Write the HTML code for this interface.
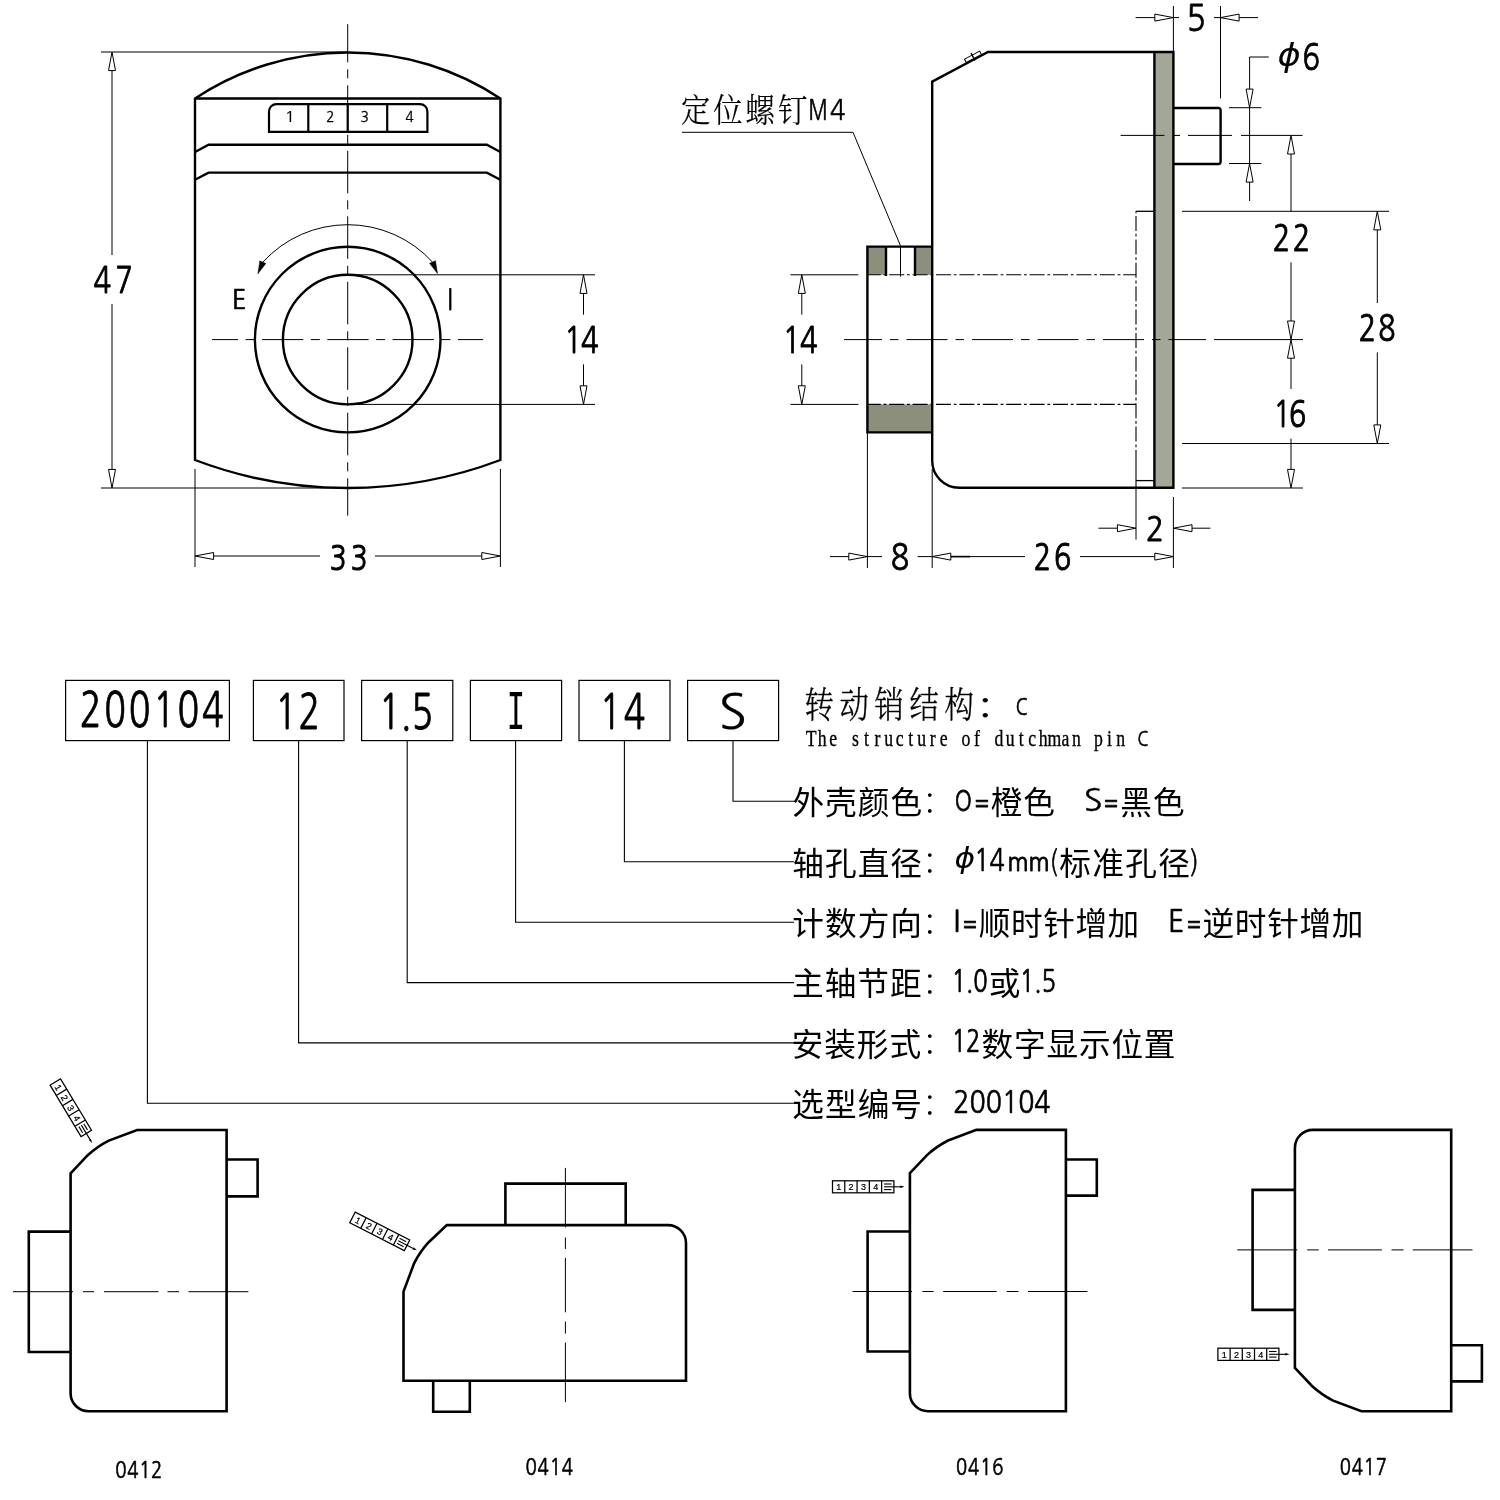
<!DOCTYPE html>
<html lang="zh">
<head>
<meta charset="utf-8">
<title>200104</title>
<style>
html,body{margin:0;padding:0;background:#fff;}
body{width:1500px;height:1500px;overflow:hidden;}
svg{display:block;will-change:transform;}
text{font-kerning:none;}
</style>
</head>
<body>
<svg width="1500" height="1500" viewBox="0 0 1500 1500">
<rect width="1500" height="1500" fill="#fff"/>
<path d="M195.0 98.5 A276.4 276.4 0 0 1 500.4 98.5 V460 A430.4 430.4 0 0 1 195.0 460 Z" stroke="#000" stroke-width="2.4" fill="none" stroke-linejoin="miter"/>
<line x1="195.00" y1="98.50" x2="500.40" y2="98.50" stroke="#000" stroke-width="2.4"/>
<path d="M195.0 152.0 L208.6 144.8 H486.8 L500.4 152.0" stroke="#000" stroke-width="2.4" fill="none" stroke-linejoin="miter"/>
<path d="M195.0 179.79999999999998 L208.6 172.6 H486.8 L500.4 179.79999999999998" stroke="#000" stroke-width="2.4" fill="none" stroke-linejoin="miter"/>
<path d="M269.0 131.8 V111.5 A7.4 7.4 0 0 1 276.4 104.1 H420 A7.4 7.4 0 0 1 427.4 111.5 V131.8 Z" stroke="#000" stroke-width="2.2" fill="none" stroke-linejoin="miter"/>
<line x1="308.30" y1="104.10" x2="308.30" y2="131.80" stroke="#000" stroke-width="2.2"/>
<line x1="347.70" y1="104.10" x2="347.70" y2="131.80" stroke="#000" stroke-width="2.2"/>
<line x1="387.20" y1="104.10" x2="387.20" y2="131.80" stroke="#000" stroke-width="2.2"/>
<text transform="translate(284.56 121.68) scale(1.1971 1)" font-family='"NanumGothic", "Liberation Sans", sans-serif' font-size="14.81" fill="#000" stroke="#000" stroke-width="0.17" stroke-linejoin="round" vector-effect="non-scaling-stroke" xml:space="preserve">1</text>
<text transform="translate(326.33 121.60) scale(0.9509 1)" font-family='"NanumGothic", "Liberation Sans", sans-serif' font-size="14.17" fill="#000" stroke="#000" stroke-width="0.34" stroke-linejoin="round" vector-effect="non-scaling-stroke" xml:space="preserve">2</text>
<text transform="translate(360.46 121.50) scale(0.9872 1)" font-family='"NanumGothic", "Liberation Sans", sans-serif' font-size="14.05" fill="#000" stroke="#000" stroke-width="0.33" stroke-linejoin="round" vector-effect="non-scaling-stroke" xml:space="preserve">3</text>
<text transform="translate(405.49 121.60) scale(0.9444 1)" font-family='"NanumGothic", "Liberation Sans", sans-serif' font-size="14.32" fill="#000" stroke="#000" stroke-width="0.33" stroke-linejoin="round" vector-effect="non-scaling-stroke" xml:space="preserve">4</text>
<circle cx="347.70" cy="339.60" r="92.80" fill="none" stroke="#000" stroke-width="2.4"/>
<circle cx="347.70" cy="339.60" r="64.80" fill="none" stroke="#000" stroke-width="2.4"/>
<path d="M347.70 24.2V62.3M347.70 69.3V78.3M347.70 85.3V127.8M347.70 134.8V143.8M347.70 150.8V193.3M347.70 200.3V209.3M347.70 216.3V258.8M347.70 265.8V274.8M347.70 281.8V324.3M347.70 331.3V340.3M347.70 347.3V389.8M347.70 396.8V405.8M347.70 412.8V455.3M347.70 462.3V471.3M347.70 478.3V515.6" stroke="#000" stroke-width="1.0" fill="none"/>
<path d="M212.0 339.60H238.0M245.5 339.60H254.5M262.0 339.60H303.3M310.8 339.60H319.8M327.3 339.60H368.6M376.1 339.60H385.1M392.6 339.60H433.9M441.4 339.60H450.4M457.9 339.60H483.2" stroke="#000" stroke-width="1.0" fill="none"/>
<path d="M262.85 262.12 A114.9 114.9 0 0 1 432.55 262.12" stroke="#000" stroke-width="1.0" fill="none" stroke-linejoin="miter"/>
<path d="M257.80 273.90L259.81 260.84L265.88 263.44Z" fill="#000" stroke="#000" stroke-width="0.4" stroke-linejoin="miter"/>
<path d="M437.60 273.70L429.46 263.29L435.51 260.65Z" fill="#000" stroke="#000" stroke-width="0.4" stroke-linejoin="miter"/>
<text transform="translate(232.03 308.65) scale(0.9712 1)" font-family='"NanumGothic", "Liberation Sans", sans-serif' font-size="25.99" fill="#000" stroke="#000" stroke-width="0.70" stroke-linejoin="round" vector-effect="non-scaling-stroke" xml:space="preserve">E</text>
<text transform="translate(447.45 309.40) scale(0.7446 1)" font-family='"NanumGothic", "Liberation Sans", sans-serif' font-size="28.73" fill="#000" stroke="#000" stroke-width="0.75" stroke-linejoin="round" vector-effect="non-scaling-stroke" xml:space="preserve">I</text>
<line x1="101.00" y1="52.00" x2="347.70" y2="52.00" stroke="#000" stroke-width="1.0"/>
<line x1="101.00" y1="488.00" x2="347.70" y2="488.00" stroke="#000" stroke-width="1.0"/>
<path d="M112.00 52.00L115.50 70.60L108.50 70.60Z" fill="#fff" stroke="#000" stroke-width="1.0" stroke-linejoin="miter"/>
<path d="M112.00 488.00L108.50 469.40L115.50 469.40Z" fill="#fff" stroke="#000" stroke-width="1.0" stroke-linejoin="miter"/>
<line x1="112.00" y1="70.60" x2="112.00" y2="255.00" stroke="#000" stroke-width="1.0"/>
<line x1="112.00" y1="304.00" x2="112.00" y2="469.40" stroke="#000" stroke-width="1.0"/>
<text transform="translate(93.40 293.49) scale(0.8000 1)" font-family='"NanumGothic", "Liberation Sans", sans-serif' font-size="36.46" fill="#000" letter-spacing="5.19" stroke="#000" stroke-width="0.84" stroke-linejoin="round" vector-effect="non-scaling-stroke" xml:space="preserve">47</text>
<line x1="195.00" y1="469.00" x2="195.00" y2="567.00" stroke="#000" stroke-width="1.0"/>
<line x1="500.40" y1="469.00" x2="500.40" y2="567.00" stroke="#000" stroke-width="1.0"/>
<path d="M195.00 556.00L213.60 552.50L213.60 559.50Z" fill="#fff" stroke="#000" stroke-width="1.0" stroke-linejoin="miter"/>
<path d="M500.40 556.00L481.80 559.50L481.80 552.50Z" fill="#fff" stroke="#000" stroke-width="1.0" stroke-linejoin="miter"/>
<line x1="213.60" y1="556.00" x2="320.00" y2="556.00" stroke="#000" stroke-width="1.0"/>
<line x1="375.00" y1="556.00" x2="481.80" y2="556.00" stroke="#000" stroke-width="1.0"/>
<text transform="translate(329.66 569.58) scale(0.8000 1)" font-family='"NanumGothic", "Liberation Sans", sans-serif' font-size="34.82" fill="#000" letter-spacing="5.26" stroke="#000" stroke-width="0.94" stroke-linejoin="round" vector-effect="non-scaling-stroke" xml:space="preserve">33</text>
<line x1="347.70" y1="274.80" x2="595.00" y2="274.80" stroke="#000" stroke-width="1.0"/>
<line x1="347.70" y1="404.40" x2="595.00" y2="404.40" stroke="#000" stroke-width="1.0"/>
<path d="M583.50 274.80L587.00 293.40L580.00 293.40Z" fill="#fff" stroke="#000" stroke-width="1.0" stroke-linejoin="miter"/>
<path d="M583.50 404.40L580.00 385.80L587.00 385.80Z" fill="#fff" stroke="#000" stroke-width="1.0" stroke-linejoin="miter"/>
<line x1="583.50" y1="293.40" x2="583.50" y2="314.60" stroke="#000" stroke-width="1.0"/>
<line x1="583.50" y1="364.40" x2="583.50" y2="385.80" stroke="#000" stroke-width="1.0"/>
<text transform="translate(564.26 353.49) scale(0.8000 1)" font-family='"NanumGothic", "Liberation Sans", sans-serif' font-size="36.46" fill="#000" letter-spacing="-1.28" stroke="#000" stroke-width="0.84" stroke-linejoin="round" vector-effect="non-scaling-stroke" xml:space="preserve">14</text>
<rect x="867.40" y="246.60" width="18.60" height="28.20" fill="#8b8f7c" stroke="none"/>
<rect x="915.00" y="246.60" width="17.20" height="28.20" fill="#8b8f7c" stroke="none"/>
<rect x="867.40" y="404.40" width="64.80" height="28.00" fill="#8b8f7c" stroke="none"/>
<rect x="1154.40" y="52.00" width="19.00" height="435.80" fill="#a3a797" stroke="none"/>
<path d="M867.4 274.80H880.8M883.6 274.80H886.4M889.2 274.80H904.2M907.0 274.80H909.8M912.6 274.80H927.6M930.4 274.80H933.2M936.0 274.80H951.0M953.8 274.80H956.6M959.4 274.80H974.4M977.2 274.80H980.0M982.8 274.80H997.8M1000.6 274.80H1003.4M1006.2 274.80H1021.2M1024.0 274.80H1026.8M1029.6 274.80H1044.6M1047.4 274.80H1050.2M1053.0 274.80H1068.0M1070.8 274.80H1073.6M1076.4 274.80H1091.4M1094.2 274.80H1097.0M1099.8 274.80H1114.8M1117.6 274.80H1120.4M1123.2 274.80H1136.0" stroke="#000" stroke-width="1.1" fill="none"/>
<path d="M867.4 404.40H880.8M883.6 404.40H886.4M889.2 404.40H904.2M907.0 404.40H909.8M912.6 404.40H927.6M930.4 404.40H933.2M936.0 404.40H951.0M953.8 404.40H956.6M959.4 404.40H974.4M977.2 404.40H980.0M982.8 404.40H997.8M1000.6 404.40H1003.4M1006.2 404.40H1021.2M1024.0 404.40H1026.8M1029.6 404.40H1044.6M1047.4 404.40H1050.2M1053.0 404.40H1068.0M1070.8 404.40H1073.6M1076.4 404.40H1091.4M1094.2 404.40H1097.0M1099.8 404.40H1114.8M1117.6 404.40H1120.4M1123.2 404.40H1136.0" stroke="#000" stroke-width="1.1" fill="none"/>
<path d="M1136.00 211.3V213.2M1136.00 216.0V231.0M1136.00 233.8V236.6M1136.00 239.4V254.4M1136.00 257.2V260.0M1136.00 262.8V277.8M1136.00 280.6V283.4M1136.00 286.2V301.2M1136.00 304.0V306.8M1136.00 309.6V324.6M1136.00 327.4V330.2M1136.00 333.0V348.0M1136.00 350.8V353.6M1136.00 356.4V371.4M1136.00 374.2V377.0M1136.00 379.8V394.8M1136.00 397.6V400.4M1136.00 403.2V418.2M1136.00 421.0V423.8M1136.00 426.6V441.6M1136.00 444.4V447.2M1136.00 450.0V452.0" stroke="#000" stroke-width="1.1" fill="none"/>
<line x1="1136.00" y1="452.00" x2="1136.00" y2="487.80" stroke="#000" stroke-width="1.1"/>
<line x1="1136.00" y1="211.30" x2="1154.40" y2="211.30" stroke="#000" stroke-width="1.3"/>
<line x1="1136.00" y1="480.60" x2="1154.40" y2="480.60" stroke="#000" stroke-width="1.3"/>
<path d="M932.2 246.6 H867.4 V432.4 H932.2" stroke="#000" stroke-width="2.4" fill="none" stroke-linejoin="miter"/>
<line x1="886.00" y1="246.60" x2="886.00" y2="276.00" stroke="#000" stroke-width="2.4"/>
<line x1="915.00" y1="246.60" x2="915.00" y2="276.00" stroke="#000" stroke-width="2.4"/>
<line x1="900.50" y1="246.00" x2="900.50" y2="276.50" stroke="#000" stroke-width="1.0"/>
<path d="M932.2 81.6 L988 52.0 H1173.4 V487.8 H959.2 A27 27 0 0 1 932.2 460.8 Z" stroke="#000" stroke-width="2.4" fill="none" stroke-linejoin="miter"/>
<line x1="1154.40" y1="52.00" x2="1154.40" y2="487.80" stroke="#000" stroke-width="2.4"/>
<path d="M1173.4 108 H1218.4 A2.2 2.2 0 0 1 1220.6 110.2 V161.8 A2.2 2.2 0 0 1 1218.4 164 H1173.4" stroke="#000" stroke-width="2.4" fill="none" stroke-linejoin="miter"/>
<g transform="translate(973 56.8) rotate(-27.8)"><rect x="-8.6" y="-1.9" width="17.2" height="3.8" fill="#fff" stroke="#000" stroke-width="1"/><line x1="0" y1="-4.2" x2="0" y2="4.2" stroke="#000" stroke-width="1.4"/></g>
<path d="M844.0 339.60H882.0M890.0 339.60H898.5M906.5 339.60H947.5M955.5 339.60H964.0M972.0 339.60H1013.0M1021.0 339.60H1029.5M1037.5 339.60H1078.5M1086.5 339.60H1095.0M1103.0 339.60H1144.0M1152.0 339.60H1160.5M1168.5 339.60H1206.0" stroke="#000" stroke-width="1.0" fill="none"/>
<line x1="1214.00" y1="339.60" x2="1303.00" y2="339.60" stroke="#000" stroke-width="1.0"/>
<path d="M1120.6 135.40H1164.4M1173.0 135.40H1180.0M1188.0 135.40H1232.0M1241.0 135.40H1302.6" stroke="#000" stroke-width="1.0" fill="none"/>
<path d="M682 132.3 H853 L900.6 246" stroke="#000" stroke-width="1.0" fill="none" stroke-linejoin="miter"/>
<line x1="790.40" y1="274.80" x2="858.40" y2="274.80" stroke="#000" stroke-width="1.0"/>
<line x1="790.40" y1="404.40" x2="858.40" y2="404.40" stroke="#000" stroke-width="1.0"/>
<path d="M801.80 274.80L805.30 293.40L798.30 293.40Z" fill="#fff" stroke="#000" stroke-width="1.0" stroke-linejoin="miter"/>
<path d="M801.80 404.40L798.30 385.80L805.30 385.80Z" fill="#fff" stroke="#000" stroke-width="1.0" stroke-linejoin="miter"/>
<line x1="801.80" y1="293.40" x2="801.80" y2="314.60" stroke="#000" stroke-width="1.0"/>
<line x1="801.80" y1="364.40" x2="801.80" y2="385.80" stroke="#000" stroke-width="1.0"/>
<text transform="translate(782.86 353.49) scale(0.8000 1)" font-family='"NanumGothic", "Liberation Sans", sans-serif' font-size="36.46" fill="#000" letter-spacing="-0.78" stroke="#000" stroke-width="0.84" stroke-linejoin="round" vector-effect="non-scaling-stroke" xml:space="preserve">14</text>
<line x1="1173.40" y1="6.00" x2="1173.40" y2="52.00" stroke="#000" stroke-width="1.0"/>
<line x1="1220.50" y1="6.00" x2="1220.50" y2="98.40" stroke="#000" stroke-width="1.0"/>
<path d="M1173.40 17.60L1154.80 21.10L1154.80 14.10Z" fill="#fff" stroke="#000" stroke-width="1.0" stroke-linejoin="miter"/>
<path d="M1220.50 17.60L1239.10 14.10L1239.10 21.10Z" fill="#fff" stroke="#000" stroke-width="1.0" stroke-linejoin="miter"/>
<line x1="1135.60" y1="17.60" x2="1154.80" y2="17.60" stroke="#000" stroke-width="1.0"/>
<line x1="1239.10" y1="17.60" x2="1258.00" y2="17.60" stroke="#000" stroke-width="1.0"/>
<line x1="1173.40" y1="17.60" x2="1179.00" y2="17.60" stroke="#000" stroke-width="1.0"/>
<line x1="1214.00" y1="17.60" x2="1220.50" y2="17.60" stroke="#000" stroke-width="1.0"/>
<text transform="translate(1186.57 31.46) scale(0.8844 1)" font-family='"NanumGothic", "Liberation Sans", sans-serif' font-size="36.22" fill="#000" stroke="#000" stroke-width="0.75" stroke-linejoin="round" vector-effect="non-scaling-stroke" xml:space="preserve">5</text>
<path d="M1268.8 57 H1249.6 V89" stroke="#000" stroke-width="1.0" fill="none" stroke-linejoin="miter"/>
<path d="M1249.60 107.70L1246.10 89.10L1253.10 89.10Z" fill="#fff" stroke="#000" stroke-width="1.0" stroke-linejoin="miter"/>
<path d="M1249.60 163.50L1253.10 182.10L1246.10 182.10Z" fill="#fff" stroke="#000" stroke-width="1.0" stroke-linejoin="miter"/>
<line x1="1249.60" y1="107.70" x2="1249.60" y2="163.50" stroke="#000" stroke-width="1.0"/>
<line x1="1249.60" y1="182.10" x2="1249.60" y2="201.00" stroke="#000" stroke-width="1.0"/>
<line x1="1229.00" y1="107.70" x2="1261.40" y2="107.70" stroke="#000" stroke-width="1.0"/>
<line x1="1229.00" y1="163.50" x2="1261.40" y2="163.50" stroke="#000" stroke-width="1.0"/>
<text font-family='"Liberation Sans", "Noto Sans CJK SC", sans-serif' font-size="30" fill="#000" xml:space="preserve"><tspan x="1277.41" y="65.52" font-family='"DejaVu Sans", "Liberation Sans", sans-serif' font-size="31.21" textLength="23.35" lengthAdjust="spacingAndGlyphs" font-style="italic">ϕ</tspan><tspan x="1302.49" y="70.01" font-family='"NanumGothic", "Liberation Sans", sans-serif' font-size="35.69" textLength="17.49" lengthAdjust="spacingAndGlyphs" stroke="#000" stroke-width="0.87" stroke-linejoin="round">6</tspan></text>
<line x1="1182.00" y1="211.30" x2="1389.00" y2="211.30" stroke="#000" stroke-width="1.0"/>
<line x1="1182.00" y1="443.50" x2="1389.00" y2="443.50" stroke="#000" stroke-width="1.0"/>
<line x1="1182.00" y1="488.00" x2="1303.00" y2="488.00" stroke="#000" stroke-width="1.0"/>
<path d="M1291.00 135.40L1294.50 154.00L1287.50 154.00Z" fill="#fff" stroke="#000" stroke-width="1.0" stroke-linejoin="miter"/>
<line x1="1291.00" y1="154.00" x2="1291.00" y2="211.30" stroke="#000" stroke-width="1.0"/>
<line x1="1291.00" y1="262.40" x2="1291.00" y2="321.00" stroke="#000" stroke-width="1.0"/>
<path d="M1291.00 339.60L1287.50 321.00L1294.50 321.00Z" fill="#fff" stroke="#000" stroke-width="1.0" stroke-linejoin="miter"/>
<path d="M1291.00 339.60L1294.50 358.20L1287.50 358.20Z" fill="#fff" stroke="#000" stroke-width="1.0" stroke-linejoin="miter"/>
<line x1="1291.00" y1="358.20" x2="1291.00" y2="389.00" stroke="#000" stroke-width="1.0"/>
<line x1="1291.00" y1="438.60" x2="1291.00" y2="469.40" stroke="#000" stroke-width="1.0"/>
<path d="M1291.00 488.00L1287.50 469.40L1294.50 469.40Z" fill="#fff" stroke="#000" stroke-width="1.0" stroke-linejoin="miter"/>
<text transform="translate(1272.63 251.48) scale(0.8000 1)" font-family='"NanumGothic", "Liberation Sans", sans-serif' font-size="36.06" fill="#000" letter-spacing="3.38" stroke="#000" stroke-width="0.86" stroke-linejoin="round" vector-effect="non-scaling-stroke" xml:space="preserve">22</text>
<text transform="translate(1273.38 427.20) scale(0.8000 1)" font-family='"NanumGothic", "Liberation Sans", sans-serif' font-size="35.68" fill="#000" letter-spacing="-2.23" stroke="#000" stroke-width="0.89" stroke-linejoin="round" vector-effect="non-scaling-stroke" xml:space="preserve">16</text>
<path d="M1377.30 211.30L1380.80 229.90L1373.80 229.90Z" fill="#fff" stroke="#000" stroke-width="1.0" stroke-linejoin="miter"/>
<path d="M1377.30 443.50L1373.80 424.90L1380.80 424.90Z" fill="#fff" stroke="#000" stroke-width="1.0" stroke-linejoin="miter"/>
<line x1="1377.30" y1="229.90" x2="1377.30" y2="303.00" stroke="#000" stroke-width="1.0"/>
<line x1="1377.30" y1="352.40" x2="1377.30" y2="424.90" stroke="#000" stroke-width="1.0"/>
<text transform="translate(1358.66 341.20) scale(0.8000 1)" font-family='"NanumGothic", "Liberation Sans", sans-serif' font-size="35.68" fill="#000" letter-spacing="2.74" stroke="#000" stroke-width="0.89" stroke-linejoin="round" vector-effect="non-scaling-stroke" xml:space="preserve">28</text>
<line x1="867.40" y1="432.40" x2="867.40" y2="568.00" stroke="#000" stroke-width="1.0"/>
<line x1="932.20" y1="469.00" x2="932.20" y2="568.00" stroke="#000" stroke-width="1.0"/>
<line x1="1173.40" y1="497.00" x2="1173.40" y2="568.00" stroke="#000" stroke-width="1.0"/>
<line x1="830.00" y1="556.60" x2="848.80" y2="556.60" stroke="#000" stroke-width="1.0"/>
<path d="M867.40 556.60L848.80 560.10L848.80 553.10Z" fill="#fff" stroke="#000" stroke-width="1.0" stroke-linejoin="miter"/>
<line x1="867.40" y1="556.60" x2="882.00" y2="556.60" stroke="#000" stroke-width="1.0"/>
<line x1="917.60" y1="556.60" x2="932.20" y2="556.60" stroke="#000" stroke-width="1.0"/>
<path d="M932.20 556.60L950.80 553.10L950.80 560.10Z" fill="#fff" stroke="#000" stroke-width="1.0" stroke-linejoin="miter"/>
<line x1="950.80" y1="556.60" x2="1025.00" y2="556.60" stroke="#000" stroke-width="1.0"/>
<line x1="951.00" y1="556.60" x2="970.00" y2="556.60" stroke="#000" stroke-width="1.6"/>
<line x1="1080.00" y1="556.60" x2="1154.80" y2="556.60" stroke="#000" stroke-width="1.0"/>
<path d="M1173.40 556.60L1154.80 560.10L1154.80 553.10Z" fill="#fff" stroke="#000" stroke-width="1.0" stroke-linejoin="miter"/>
<text transform="translate(890.65 570.24) scale(0.8533 1)" font-family='"NanumGothic", "Liberation Sans", sans-serif' font-size="35.77" fill="#000" stroke="#000" stroke-width="0.81" stroke-linejoin="round" vector-effect="non-scaling-stroke" xml:space="preserve">8</text>
<text transform="translate(1033.66 570.20) scale(0.8000 1)" font-family='"NanumGothic", "Liberation Sans", sans-serif' font-size="35.68" fill="#000" letter-spacing="3.67" stroke="#000" stroke-width="0.89" stroke-linejoin="round" vector-effect="non-scaling-stroke" xml:space="preserve">26</text>
<line x1="1136.00" y1="487.80" x2="1136.00" y2="539.60" stroke="#000" stroke-width="1.0"/>
<line x1="1098.40" y1="528.20" x2="1117.40" y2="528.20" stroke="#000" stroke-width="1.0"/>
<path d="M1136.00 528.20L1117.40 531.70L1117.40 524.70Z" fill="#fff" stroke="#000" stroke-width="1.0" stroke-linejoin="miter"/>
<path d="M1173.40 528.20L1192.00 524.70L1192.00 531.70Z" fill="#fff" stroke="#000" stroke-width="1.0" stroke-linejoin="miter"/>
<line x1="1192.00" y1="528.20" x2="1210.40" y2="528.20" stroke="#000" stroke-width="1.0"/>
<text transform="translate(1146.00 541.07) scale(0.8655 1)" font-family='"NanumGothic", "Liberation Sans", sans-serif' font-size="34.16" fill="#000" stroke="#000" stroke-width="0.90" stroke-linejoin="round" vector-effect="non-scaling-stroke" xml:space="preserve">2</text>
<text font-family='"Liberation Sans", "Noto Sans CJK SC", sans-serif' font-size="30" fill="#000" xml:space="preserve"><tspan x="681.03" y="121.76" font-family='"Liberation Serif", "Noto Serif CJK SC", serif' font-size="32.51" letter-spacing="3.38" textLength="129.20" lengthAdjust="spacingAndGlyphs" font-weight="300" stroke="#000" stroke-width="0.25" stroke-linejoin="round">定位螺钉</tspan><tspan x="808.62" y="120.45" font-family='"NanumGothic", "Liberation Sans", sans-serif' font-size="29.23" textLength="19.13" lengthAdjust="spacingAndGlyphs" stroke="#000" stroke-width="0.70" stroke-linejoin="round">M</tspan><tspan x="829.95" y="120.48" font-family='"NanumGothic", "Liberation Sans", sans-serif' font-size="29.41" textLength="15.46" lengthAdjust="spacingAndGlyphs" stroke="#000" stroke-width="0.49" stroke-linejoin="round">4</tspan></text>
<rect x="65.60" y="680.40" width="163.80" height="60.20" fill="none" stroke="#000" stroke-width="1.2"/>
<rect x="253.40" y="680.40" width="90.60" height="60.20" fill="none" stroke="#000" stroke-width="1.2"/>
<rect x="361.60" y="680.40" width="91.20" height="60.20" fill="none" stroke="#000" stroke-width="1.2"/>
<rect x="470.40" y="680.40" width="91.20" height="60.20" fill="none" stroke="#000" stroke-width="1.2"/>
<rect x="579.00" y="680.40" width="91.00" height="60.20" fill="none" stroke="#000" stroke-width="1.2"/>
<rect x="687.60" y="680.40" width="91.00" height="60.20" fill="none" stroke="#000" stroke-width="1.2"/>
<text transform="translate(79.73 726.51) scale(0.7400 1)" font-family='"NanumGothic", "Liberation Sans", sans-serif' font-size="48.41" fill="#000" letter-spacing="3.74" stroke="#000" stroke-width="0.73" stroke-linejoin="round" vector-effect="non-scaling-stroke" xml:space="preserve">200104</text>
<text transform="translate(275.30 728.50) scale(0.7400 1)" font-family='"NanumGothic", "Liberation Sans", sans-serif' font-size="48.12" fill="#000" letter-spacing="2.07" stroke="#000" stroke-width="0.75" stroke-linejoin="round" vector-effect="non-scaling-stroke" xml:space="preserve">12</text>
<text transform="translate(378.90 728.50) scale(0.7400 1)" font-family='"NanumGothic", "Liberation Sans", sans-serif' font-size="48.12" fill="#000" letter-spacing="0.24" stroke="#000" stroke-width="0.75" stroke-linejoin="round" vector-effect="non-scaling-stroke" xml:space="preserve">1.5</text>
<text transform="translate(506.69 728.94) scale(0.5498 1)" font-family='"Liberation Mono", monospace' font-size="55.48" fill="#000" stroke="#000" stroke-width="0.12" stroke-linejoin="round" vector-effect="non-scaling-stroke" xml:space="preserve">I</text>
<text transform="translate(599.70 728.50) scale(0.7400 1)" font-family='"NanumGothic", "Liberation Sans", sans-serif' font-size="48.12" fill="#000" letter-spacing="3.24" stroke="#000" stroke-width="0.75" stroke-linejoin="round" vector-effect="non-scaling-stroke" xml:space="preserve">14</text>
<text transform="translate(718.42 728.60) scale(1.0817 1)" font-family='"NanumGothic", "Liberation Sans", sans-serif' font-size="48.37" fill="#000" stroke="#000" stroke-width="0.16" stroke-linejoin="round" vector-effect="non-scaling-stroke" xml:space="preserve">S</text>
<path d="M733.0 740.6 V801.3 H794" stroke="#000" stroke-width="1.1" fill="none" stroke-linejoin="miter"/>
<path d="M624.4 740.6 V861.8 H794" stroke="#000" stroke-width="1.1" fill="none" stroke-linejoin="miter"/>
<path d="M515.6 740.6 V922.3 H794" stroke="#000" stroke-width="1.1" fill="none" stroke-linejoin="miter"/>
<path d="M407.2 740.6 V982.6 H794" stroke="#000" stroke-width="1.1" fill="none" stroke-linejoin="miter"/>
<path d="M298.6 740.6 V1042.9 H794" stroke="#000" stroke-width="1.1" fill="none" stroke-linejoin="miter"/>
<path d="M147.4 740.6 V1103.3 H794" stroke="#000" stroke-width="1.1" fill="none" stroke-linejoin="miter"/>
<text font-family='"Liberation Sans", "Noto Sans CJK SC", sans-serif' font-size="30" fill="#000" xml:space="preserve"><tspan x="804.58" y="717.79" font-family='"Liberation Serif", "Noto Serif CJK SC", serif' font-size="36.69" letter-spacing="7.06" textLength="175.00" lengthAdjust="spacingAndGlyphs" font-weight="300" stroke="#000" stroke-width="0.35" stroke-linejoin="round">转动销结构</tspan><tspan x="975.26" y="718.90" font-family='"Liberation Serif", "Noto Serif CJK SC", serif' font-size="37.13" textLength="43.20" lengthAdjust="spacingAndGlyphs">：</tspan> <tspan x="1015.79" y="715.18" font-family='"NanumGothic", "Liberation Sans", sans-serif' font-size="23.38" textLength="11.84" lengthAdjust="spacingAndGlyphs" stroke="#000" stroke-width="0.65" stroke-linejoin="round">C</tspan></text>
<text transform="scale(0.8 1)" x="1014.0 1027.8 1041.6 1055.4 1069.2 1083.1 1096.9 1110.7 1124.5 1138.3 1152.1 1165.9 1179.7 1193.6 1207.4 1221.2 1235.0 1248.8 1262.6 1276.4 1290.2 1304.1 1317.9 1331.7 1345.5 1359.3 1373.1 1386.9 1400.8 1414.6" y="745.9" text-anchor="middle" font-family='"Liberation Serif", serif' font-size="22.14" fill="#000" stroke="#000" stroke-width="0.3" vector-effect="non-scaling-stroke" xml:space="preserve">The structure of dutchman pin <tspan x="1421.78" y="746.20" text-anchor="start" font-family='"NanumGothic", "Liberation Sans", sans-serif' font-size="20.07" stroke-width="0.6">C</tspan></text>
<text font-family='"Liberation Sans", "Noto Sans CJK SC", sans-serif' font-size="30" fill="#000" xml:space="preserve"><tspan x="792.43" y="814.17" font-family='"Liberation Sans", "Noto Sans CJK SC", sans-serif' font-size="31.65" letter-spacing="1.05">外壳颜色</tspan><tspan x="922.59" y="811.82" font-family='"Liberation Sans", "Noto Sans CJK SC", sans-serif' font-size="30.08" textLength="29.23" lengthAdjust="spacingAndGlyphs" font-weight="300">：</tspan><tspan x="954.75" y="810.65" font-family='"NanumGothic", "Liberation Sans", sans-serif' font-size="29.45" textLength="17.04" lengthAdjust="spacingAndGlyphs" stroke="#000" stroke-width="0.82" stroke-linejoin="round">O</tspan><tspan x="974.87" y="811.84" font-family='"NanumGothic", "Liberation Sans", sans-serif' font-size="24.74" textLength="14.23" lengthAdjust="spacingAndGlyphs" stroke="#000" stroke-width="0.75" stroke-linejoin="round">=</tspan><tspan x="990.63" y="814.17" font-family='"Liberation Sans", "Noto Sans CJK SC", sans-serif' font-size="31.65" letter-spacing="1.05">橙色</tspan>  <tspan x="1083.75" y="810.87" font-family='"NanumGothic", "Liberation Sans", sans-serif' font-size="30.07" textLength="18.86" lengthAdjust="spacingAndGlyphs" stroke="#000" stroke-width="0.35" stroke-linejoin="round">S</tspan><tspan x="1104.09" y="811.84" font-family='"NanumGothic", "Liberation Sans", sans-serif' font-size="24.74" textLength="13.99" lengthAdjust="spacingAndGlyphs" stroke="#000" stroke-width="0.75" stroke-linejoin="round">=</tspan><tspan x="1120.26" y="814.17" font-family='"Liberation Sans", "Noto Sans CJK SC", sans-serif' font-size="31.65" letter-spacing="1.05">黑色</tspan></text>
<text font-family='"Liberation Sans", "Noto Sans CJK SC", sans-serif' font-size="30" fill="#000" xml:space="preserve"><tspan x="792.28" y="874.67" font-family='"Liberation Sans", "Noto Sans CJK SC", sans-serif' font-size="31.65" letter-spacing="1.05">轴孔直径</tspan><tspan x="922.59" y="872.32" font-family='"Liberation Sans", "Noto Sans CJK SC", sans-serif' font-size="30.08" textLength="29.23" lengthAdjust="spacingAndGlyphs" font-weight="300">：</tspan><tspan x="954.40" y="868.25" font-family='"DejaVu Sans", "Liberation Sans", sans-serif' font-size="27.70" textLength="20.55" lengthAdjust="spacingAndGlyphs" font-style="italic">ϕ</tspan><tspan x="974.26" y="871.28" font-family='"NanumGothic", "Liberation Sans", sans-serif' font-size="29.81" textLength="30.46" lengthAdjust="spacingAndGlyphs" stroke="#000" stroke-width="0.69" stroke-linejoin="round">14</tspan><tspan x="1007.56" y="871.26" font-family='"NanumGothic", "Liberation Sans", sans-serif' font-size="25.60" textLength="42.04" lengthAdjust="spacingAndGlyphs" stroke="#000" stroke-width="0.89" stroke-linejoin="round">mm</tspan><tspan x="1050.24" y="871.52" font-family='"NanumGothic", "Liberation Sans", sans-serif' font-size="28.79" textLength="6.88" lengthAdjust="spacingAndGlyphs" stroke="#000" stroke-width="0.94" stroke-linejoin="round">(</tspan><tspan x="1059.21" y="874.67" font-family='"Liberation Sans", "Noto Sans CJK SC", sans-serif' font-size="31.65" letter-spacing="1.35">标准孔径</tspan><tspan x="1190.52" y="871.55" font-family='"NanumGothic", "Liberation Sans", sans-serif' font-size="28.88" textLength="7.75" lengthAdjust="spacingAndGlyphs" stroke="#000" stroke-width="0.85" stroke-linejoin="round">)</tspan></text>
<text font-family='"Liberation Sans", "Noto Sans CJK SC", sans-serif' font-size="30" fill="#000" xml:space="preserve"><tspan x="792.28" y="935.17" font-family='"Liberation Sans", "Noto Sans CJK SC", sans-serif' font-size="31.65" letter-spacing="1.05">计数方向</tspan><tspan x="922.59" y="932.82" font-family='"Liberation Sans", "Noto Sans CJK SC", sans-serif' font-size="30.08" textLength="29.23" lengthAdjust="spacingAndGlyphs" font-weight="300">：</tspan><tspan x="953.21" y="930.65" font-family='"NanumGothic", "Liberation Sans", sans-serif' font-size="30.25" textLength="7.14" lengthAdjust="spacingAndGlyphs" stroke="#000" stroke-width="0.52" stroke-linejoin="round">I</tspan><tspan x="963.10" y="932.84" font-family='"NanumGothic", "Liberation Sans", sans-serif' font-size="24.74" textLength="13.87" lengthAdjust="spacingAndGlyphs" stroke="#000" stroke-width="0.75" stroke-linejoin="round">=</tspan><tspan x="978.85" y="935.17" font-family='"Liberation Sans", "Noto Sans CJK SC", sans-serif' font-size="31.65" letter-spacing="0.55">顺时针增加</tspan>  <tspan x="1168.12" y="931.92" font-family='"NanumGothic", "Liberation Sans", sans-serif' font-size="30.09" textLength="16.48" lengthAdjust="spacingAndGlyphs" stroke="#000" stroke-width="0.56" stroke-linejoin="round">E</tspan><tspan x="1187.10" y="932.84" font-family='"NanumGothic", "Liberation Sans", sans-serif' font-size="24.74" textLength="13.87" lengthAdjust="spacingAndGlyphs" stroke="#000" stroke-width="0.75" stroke-linejoin="round">=</tspan><tspan x="1202.58" y="935.17" font-family='"Liberation Sans", "Noto Sans CJK SC", sans-serif' font-size="31.65" letter-spacing="0.65">逆时针增加</tspan></text>
<text font-family='"Liberation Sans", "Noto Sans CJK SC", sans-serif' font-size="30" fill="#000" xml:space="preserve"><tspan x="791.96" y="995.47" font-family='"Liberation Sans", "Noto Sans CJK SC", sans-serif' font-size="31.65" letter-spacing="1.05">主轴节距</tspan><tspan x="922.59" y="993.12" font-family='"Liberation Sans", "Noto Sans CJK SC", sans-serif' font-size="30.08" textLength="29.23" lengthAdjust="spacingAndGlyphs" font-weight="300">：</tspan><tspan x="951.69" y="992.06" font-family='"NanumGothic", "Liberation Sans", sans-serif' font-size="29.74" textLength="35.95" lengthAdjust="spacingAndGlyphs" stroke="#000" stroke-width="0.74" stroke-linejoin="round">1.0</tspan><tspan x="988.72" y="995.47" font-family='"Liberation Sans", "Noto Sans CJK SC", sans-serif' font-size="31.65" letter-spacing="1.05">或</tspan><tspan x="1019.64" y="992.06" font-family='"NanumGothic", "Liberation Sans", sans-serif' font-size="29.76" textLength="36.44" lengthAdjust="spacingAndGlyphs" stroke="#000" stroke-width="0.73" stroke-linejoin="round">1.5</tspan></text>
<text font-family='"Liberation Sans", "Noto Sans CJK SC", sans-serif' font-size="30" fill="#000" xml:space="preserve"><tspan x="791.48" y="1055.77" font-family='"Liberation Sans", "Noto Sans CJK SC", sans-serif' font-size="31.65" letter-spacing="1.05">安装形式</tspan><tspan x="922.59" y="1053.42" font-family='"Liberation Sans", "Noto Sans CJK SC", sans-serif' font-size="30.08" textLength="29.23" lengthAdjust="spacingAndGlyphs" font-weight="300">：</tspan><tspan x="951.67" y="1052.36" font-family='"NanumGothic", "Liberation Sans", sans-serif' font-size="29.75" textLength="28.92" lengthAdjust="spacingAndGlyphs" stroke="#000" stroke-width="0.74" stroke-linejoin="round">12</tspan><tspan x="981.43" y="1055.77" font-family='"Liberation Sans", "Noto Sans CJK SC", sans-serif' font-size="31.65" letter-spacing="0.85">数字显示位置</tspan></text>
<text font-family='"Liberation Sans", "Noto Sans CJK SC", sans-serif' font-size="30" fill="#000" xml:space="preserve"><tspan x="792.28" y="1116.17" font-family='"Liberation Sans", "Noto Sans CJK SC", sans-serif' font-size="31.65" letter-spacing="1.05">选型编号</tspan><tspan x="922.59" y="1113.82" font-family='"Liberation Sans", "Noto Sans CJK SC", sans-serif' font-size="30.08" textLength="29.23" lengthAdjust="spacingAndGlyphs" font-weight="300">：</tspan><tspan x="953.34" y="1112.81" font-family='"NanumGothic", "Liberation Sans", sans-serif' font-size="29.89" textLength="97.24" lengthAdjust="spacingAndGlyphs" stroke="#000" stroke-width="0.63" stroke-linejoin="round">200104</tspan></text>
<path d="M70.6 1173.3 L87.7 1155.2 A95 95 0 0 1 108.8 1140.6 L137.1 1130.0 H226.6 V1411.3 H88.6 A18 18 0 0 1 70.6 1393.3 Z" stroke="#000" stroke-width="2.6" fill="none" stroke-linejoin="miter"/>
<path d="M70.6 1231.6 H28.8 V1352 H70.6" stroke="#000" stroke-width="2.6" fill="none" stroke-linejoin="miter"/>
<path d="M226.6 1159.5 H257.6 V1196.4 H226.6" stroke="#000" stroke-width="2.6" fill="none" stroke-linejoin="miter"/>
<path d="M13.0 1291.70H73.0M83.0 1291.70H94.0M104.0 1291.70H158.5M167.5 1291.70H179.0M188.5 1291.70H248.4" stroke="#000" stroke-width="1.0" fill="none"/>
<g transform="translate(55.3 1082.0) rotate(58.9)"><rect x="0" y="-6.1" width="60.0" height="12.2" fill="#fff" stroke="#000" stroke-width="1.25"/><line x1="12.00" y1="-6.1" x2="12.00" y2="6.1" stroke="#000" stroke-width="1.25"/><line x1="24.00" y1="-6.1" x2="24.00" y2="6.1" stroke="#000" stroke-width="1.25"/><line x1="36.00" y1="-6.1" x2="36.00" y2="6.1" stroke="#000" stroke-width="1.25"/><line x1="48.00" y1="-6.1" x2="48.00" y2="6.1" stroke="#000" stroke-width="1.25"/><text x="6.20" y="3.4" text-anchor="middle" font-family='"Liberation Sans", sans-serif' font-size="9.0" fill="#000" stroke="#000" stroke-width="0.2">1</text><text x="18.20" y="3.4" text-anchor="middle" font-family='"Liberation Sans", sans-serif' font-size="9.0" fill="#000" stroke="#000" stroke-width="0.2">2</text><text x="30.20" y="3.4" text-anchor="middle" font-family='"Liberation Sans", sans-serif' font-size="9.0" fill="#000" stroke="#000" stroke-width="0.2">3</text><text x="42.20" y="3.4" text-anchor="middle" font-family='"Liberation Sans", sans-serif' font-size="9.0" fill="#000" stroke="#000" stroke-width="0.2">4</text><line x1="50.40" y1="-2.8" x2="57.60" y2="-2.8" stroke="#000" stroke-width="1.1"/><line x1="50.40" y1="2.8" x2="57.60" y2="2.8" stroke="#000" stroke-width="1.1"/><line x1="50.40" y1="0" x2="68.5" y2="0" stroke="#000" stroke-width="1.1"/><path d="M71.1 0 L66.9 -1.2 L66.9 1.2 Z" fill="#000"/></g>
<text transform="translate(115.19 1477.63) scale(0.8000 1)" font-family='"NanumGothic", "Liberation Sans", sans-serif' font-size="23.33" fill="#000" letter-spacing="0.84" stroke="#000" stroke-width="0.62" stroke-linejoin="round" vector-effect="non-scaling-stroke" xml:space="preserve">0412</text>
<path d="M403.5 1291.6 L414.1 1263.3 A95 95 0 0 1 428.7 1242.2 L446.8 1225.1 H668.0 A18 18 0 0 1 686.0 1243.1 V1380.7 H403.5 Z" stroke="#000" stroke-width="2.6" fill="none" stroke-linejoin="miter"/>
<path d="M505.4 1225.1 V1183.6 H625.7 V1225.1" stroke="#000" stroke-width="2.6" fill="none" stroke-linejoin="miter"/>
<path d="M433.2 1380.7 V1411.8 H469.8 V1380.7" stroke="#000" stroke-width="2.6" fill="none" stroke-linejoin="miter"/>
<path d="M565.40 1167.9V1227.4M565.40 1237.5V1249.0M565.40 1257.8V1312.3M565.40 1321.5V1333.5M565.40 1342.7V1402.2" stroke="#000" stroke-width="1.0" fill="none"/>
<g transform="translate(352.5 1217.5) rotate(27.0)"><rect x="0" y="-6.0" width="61.2" height="12.0" fill="#fff" stroke="#000" stroke-width="1.25"/><line x1="12.24" y1="-6.0" x2="12.24" y2="6.0" stroke="#000" stroke-width="1.25"/><line x1="24.48" y1="-6.0" x2="24.48" y2="6.0" stroke="#000" stroke-width="1.25"/><line x1="36.72" y1="-6.0" x2="36.72" y2="6.0" stroke="#000" stroke-width="1.25"/><line x1="48.96" y1="-6.0" x2="48.96" y2="6.0" stroke="#000" stroke-width="1.25"/><text x="6.32" y="3.4" text-anchor="middle" font-family='"Liberation Sans", sans-serif' font-size="9.0" fill="#000" stroke="#000" stroke-width="0.2">1</text><text x="18.56" y="3.4" text-anchor="middle" font-family='"Liberation Sans", sans-serif' font-size="9.0" fill="#000" stroke="#000" stroke-width="0.2">2</text><text x="30.80" y="3.4" text-anchor="middle" font-family='"Liberation Sans", sans-serif' font-size="9.0" fill="#000" stroke="#000" stroke-width="0.2">3</text><text x="43.04" y="3.4" text-anchor="middle" font-family='"Liberation Sans", sans-serif' font-size="9.0" fill="#000" stroke="#000" stroke-width="0.2">4</text><line x1="51.36" y1="-2.8" x2="58.80" y2="-2.8" stroke="#000" stroke-width="1.1"/><line x1="51.36" y1="2.8" x2="58.80" y2="2.8" stroke="#000" stroke-width="1.1"/><line x1="51.36" y1="0" x2="69.7" y2="0" stroke="#000" stroke-width="1.1"/><path d="M72.3 0 L68.1 -1.2 L68.1 1.2 Z" fill="#000"/></g>
<text transform="translate(525.59 1474.63) scale(0.8000 1)" font-family='"NanumGothic", "Liberation Sans", sans-serif' font-size="23.33" fill="#000" letter-spacing="0.91" stroke="#000" stroke-width="0.62" stroke-linejoin="round" vector-effect="non-scaling-stroke" xml:space="preserve">0414</text>
<path d="M909.9 1173.2 L927.0 1155.1 A95 95 0 0 1 948.1 1140.5 L976.4 1129.9 H1065.9 V1411.2 H927.9 A18 18 0 0 1 909.9 1393.2 Z" stroke="#000" stroke-width="2.6" fill="none" stroke-linejoin="miter"/>
<path d="M909.9 1231.5 H867.6 V1351.5 H909.9" stroke="#000" stroke-width="2.6" fill="none" stroke-linejoin="miter"/>
<path d="M1065.9 1159.5 H1096.8 V1195.6 H1065.9" stroke="#000" stroke-width="2.6" fill="none" stroke-linejoin="miter"/>
<path d="M852.5 1291.50H912.0M922.5 1291.50H933.5M943.2 1291.50H996.7M1006.7 1291.50H1018.5M1028.0 1291.50H1087.5" stroke="#000" stroke-width="1.0" fill="none"/>
<g transform="translate(832.5 1186.8) rotate(0.0)"><rect x="0" y="-6.0" width="61.4" height="12.0" fill="#fff" stroke="#000" stroke-width="1.25"/><line x1="12.28" y1="-6.0" x2="12.28" y2="6.0" stroke="#000" stroke-width="1.25"/><line x1="24.56" y1="-6.0" x2="24.56" y2="6.0" stroke="#000" stroke-width="1.25"/><line x1="36.84" y1="-6.0" x2="36.84" y2="6.0" stroke="#000" stroke-width="1.25"/><line x1="49.12" y1="-6.0" x2="49.12" y2="6.0" stroke="#000" stroke-width="1.25"/><text x="6.34" y="3.4" text-anchor="middle" font-family='"Liberation Sans", sans-serif' font-size="9.0" fill="#000" stroke="#000" stroke-width="0.2">1</text><text x="18.62" y="3.4" text-anchor="middle" font-family='"Liberation Sans", sans-serif' font-size="9.0" fill="#000" stroke="#000" stroke-width="0.2">2</text><text x="30.90" y="3.4" text-anchor="middle" font-family='"Liberation Sans", sans-serif' font-size="9.0" fill="#000" stroke="#000" stroke-width="0.2">3</text><text x="43.18" y="3.4" text-anchor="middle" font-family='"Liberation Sans", sans-serif' font-size="9.0" fill="#000" stroke="#000" stroke-width="0.2">4</text><line x1="51.52" y1="-2.8" x2="59.00" y2="-2.8" stroke="#000" stroke-width="1.1"/><line x1="51.52" y1="2.8" x2="59.00" y2="2.8" stroke="#000" stroke-width="1.1"/><line x1="51.52" y1="0" x2="69.4" y2="0" stroke="#000" stroke-width="1.1"/><path d="M72.0 0 L67.8 -1.2 L67.8 1.2 Z" fill="#000"/></g>
<text transform="translate(956.01 1475.02) scale(0.8000 1)" font-family='"NanumGothic", "Liberation Sans", sans-serif' font-size="23.04" fill="#000" letter-spacing="1.14" stroke="#000" stroke-width="0.63" stroke-linejoin="round" vector-effect="non-scaling-stroke" xml:space="preserve">0416</text>
<path d="M1294.9 1367.9 L1312.0 1386.0 A95 95 0 0 0 1333.1 1400.6 L1361.4 1411.2 H1451.2 V1129.9 H1312.9 A18 18 0 0 0 1294.9 1147.9 Z" stroke="#000" stroke-width="2.6" fill="none" stroke-linejoin="miter"/>
<path d="M1294.9 1189.9 H1252.6 V1309.9 H1294.9" stroke="#000" stroke-width="2.6" fill="none" stroke-linejoin="miter"/>
<path d="M1451.2 1345.3 H1481.9 V1381.4 H1451.2" stroke="#000" stroke-width="2.6" fill="none" stroke-linejoin="miter"/>
<path d="M1237.3 1249.90H1297.3M1307.2 1249.90H1318.7M1328.0 1249.90H1381.9M1391.5 1249.90H1403.5M1412.8 1249.90H1472.5" stroke="#000" stroke-width="1.0" fill="none"/>
<g transform="translate(1217.9 1354.3) rotate(0.0)"><rect x="0" y="-6.1" width="61.0" height="12.2" fill="#fff" stroke="#000" stroke-width="1.25"/><line x1="12.20" y1="-6.1" x2="12.20" y2="6.1" stroke="#000" stroke-width="1.25"/><line x1="24.40" y1="-6.1" x2="24.40" y2="6.1" stroke="#000" stroke-width="1.25"/><line x1="36.60" y1="-6.1" x2="36.60" y2="6.1" stroke="#000" stroke-width="1.25"/><line x1="48.80" y1="-6.1" x2="48.80" y2="6.1" stroke="#000" stroke-width="1.25"/><text x="6.30" y="3.4" text-anchor="middle" font-family='"Liberation Sans", sans-serif' font-size="9.0" fill="#000" stroke="#000" stroke-width="0.2">1</text><text x="18.50" y="3.4" text-anchor="middle" font-family='"Liberation Sans", sans-serif' font-size="9.0" fill="#000" stroke="#000" stroke-width="0.2">2</text><text x="30.70" y="3.4" text-anchor="middle" font-family='"Liberation Sans", sans-serif' font-size="9.0" fill="#000" stroke="#000" stroke-width="0.2">3</text><text x="42.90" y="3.4" text-anchor="middle" font-family='"Liberation Sans", sans-serif' font-size="9.0" fill="#000" stroke="#000" stroke-width="0.2">4</text><line x1="51.20" y1="-2.8" x2="58.60" y2="-2.8" stroke="#000" stroke-width="1.1"/><line x1="51.20" y1="2.8" x2="58.60" y2="2.8" stroke="#000" stroke-width="1.1"/><line x1="51.20" y1="0" x2="69.0" y2="0" stroke="#000" stroke-width="1.1"/><path d="M71.6 0 L67.4 -1.2 L67.4 1.2 Z" fill="#000"/></g>
<text transform="translate(1339.71 1474.82) scale(0.8000 1)" font-family='"NanumGothic", "Liberation Sans", sans-serif' font-size="23.04" fill="#000" letter-spacing="1.10" stroke="#000" stroke-width="0.63" stroke-linejoin="round" vector-effect="non-scaling-stroke" xml:space="preserve">0417</text>
</svg>
</body>
</html>
